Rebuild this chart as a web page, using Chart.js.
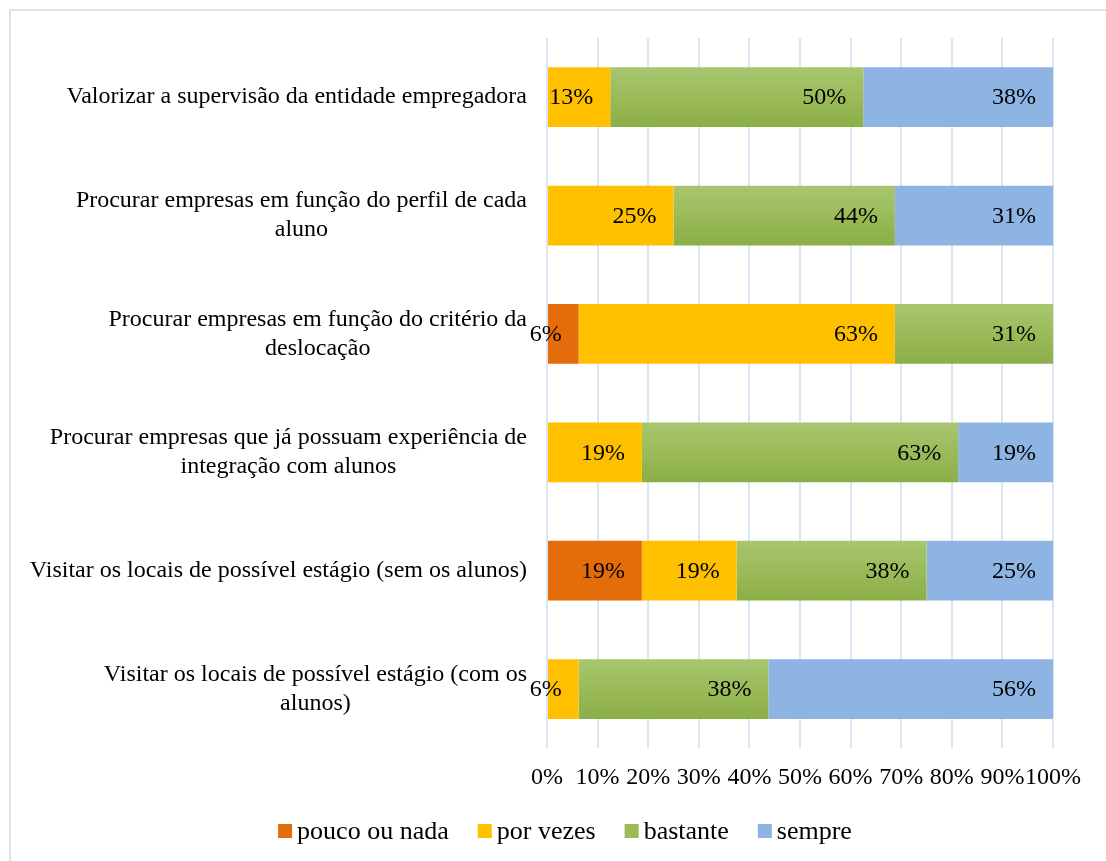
<!DOCTYPE html>
<html>
<head>
<meta charset="utf-8">
<script src="https://cdn.jsdelivr.net/npm/chart.js@4.4.0/dist/chart.umd.min.js"></script>
<style>
  html, body { margin: 0; padding: 0; background: #fff; overflow: hidden; }
  canvas { display: block; }
</style>
</head>
<body>
<canvas id="myChart" width="1106" height="861"></canvas>
<script>
// Data (percent of answers)
const categories = [
    ['Valorizar a supervisão da entidade empregadora'],
    ['Procurar empresas em função do perfil de cada', 'aluno'],
    ['Procurar empresas em função do critério da', 'deslocação'],
    ['Procurar empresas que já possuam experiência de', 'integração com alunos'],
    ['Visitar os locais de possível estágio (sem os alunos)'],
    ['Visitar os locais de possível estágio (com os', 'alunos)']
];
const seriesNames = ['pouco ou nada', 'por vezes', 'bastante', 'sempre'];
const poucoOuNada = [0, 0, 6.25, 0, 18.75, 0];
const porVezes = [12.5, 25, 62.5, 18.75, 18.75, 6.25];
const bastante = [50, 43.75, 31.25, 62.5, 37.5, 37.5];
const sempre = [37.5, 31.25, 0, 18.75, 25, 56.25];
const xTicks = [0, 10, 20, 30, 40, 50, 60, 70, 80, 90, 100];

const FONT = "'Liberation Serif', 'Times New Roman', serif";
const FONT_SIZE = 24;
const swatches = ['#e46c0a', '#ffc000', '#9bbb59', '#8eb4e3'];

// Green bars have a vertical gradient like in the original
function greenFill(context) {
    const chart = context.chart;
    if (!chart.chartArea || !chart.scales.y) return '#9bbb59';
    const yc = chart.scales.y.getPixelForValue(context.dataIndex);
    const g = chart.ctx.createLinearGradient(0, yc - 30, 0, yc + 30);
    g.addColorStop(0, '#a8c66f');
    g.addColorStop(0.5, '#9bbb59');
    g.addColorStop(1, '#8aae48');
    return g;
}

// Frame around the chart
const framePlugin = {
    id: 'frame',
    beforeDraw(chart) {
        const ctx = chart.ctx;
        ctx.save();
        ctx.fillStyle = '#fff';
        ctx.fillRect(0, 0, chart.width, chart.height);
        ctx.strokeStyle = '#d9e4f2';
        ctx.lineWidth = 2;
        ctx.beginPath();
        ctx.moveTo(10, chart.height);
        ctx.lineTo(10, 10);
        ctx.lineTo(chart.width, 10);
        ctx.stroke();
        ctx.restore();
    }
};

// Category labels: block right-aligned, lines centered
const categoryLabels = {
    id: 'categoryLabels',
    afterDraw(chart) {
        const ctx = chart.ctx;
        const y = chart.scales.y;
        const right = chart.chartArea.left - 20;
        const lh = 29;
        ctx.save();
        ctx.font = FONT_SIZE + 'px ' + FONT;
        ctx.fillStyle = '#000';
        ctx.textAlign = 'center';
        ctx.textBaseline = 'middle';
        categories.forEach((lines, i) => {
            const w = Math.max(...lines.map(l => ctx.measureText(l).width));
            const cx = right - w / 2;
            const cy = y.getPixelForValue(i);
            lines.forEach((l, j) => {
                ctx.fillText(l, cx, cy - (lines.length - 1) * lh / 2 + j * lh);
            });
        });
        ctx.restore();
    }
};

// Value labels inside the end of each bar
const valueLabels = {
    id: 'valueLabels',
    afterDatasetsDraw(chart) {
        const ctx = chart.ctx;
        ctx.save();
        ctx.font = FONT_SIZE + 'px ' + FONT;
        ctx.fillStyle = '#000';
        ctx.textAlign = 'right';
        ctx.textBaseline = 'middle';
        chart.data.datasets.forEach((ds, di) => {
            chart.getDatasetMeta(di).data.forEach((bar, i) => {
                const v = ds.data[i];
                if (!v) return;
                ctx.fillText(Math.round(v) + '%', bar.x - 17, bar.y + 1);
            });
        });
        ctx.restore();
    }
};

// Legend drawn by hand so the spacing matches the original
const legendPlugin = {
    id: 'bottomLegend',
    afterDraw(chart) {
        const ctx = chart.ctx;
        ctx.save();
        ctx.font = '26px ' + FONT;
        ctx.textBaseline = 'middle';
        ctx.textAlign = 'left';
        const box = 14, gap = 5, space = 29;
        const widths = seriesNames.map(n => box + gap + ctx.measureText(n).width);
        const total = widths.reduce((a, b) => a + b, 0) + space * (widths.length - 1);
        let x = 565 - total / 2;
        const y = 831;
        seriesNames.forEach((n, i) => {
            ctx.fillStyle = swatches[i];
            ctx.fillRect(x, y - box / 2, box, box);
            ctx.fillStyle = '#000';
            ctx.fillText(n, x + box + gap, y + 1);
            x += widths[i] + space;
        });
        ctx.restore();
    }
};

const ctx = document.getElementById('myChart').getContext('2d');
new Chart(ctx, {
    type: 'bar',
    data: {
        labels: categories,
        datasets: [
            { label: seriesNames[0], data: poucoOuNada, backgroundColor: swatches[0] },
            { label: seriesNames[1], data: porVezes, backgroundColor: swatches[1] },
            { label: seriesNames[2], data: bastante, backgroundColor: greenFill },
            { label: seriesNames[3], data: sempre, backgroundColor: swatches[3] }
        ]
    },
    options: {
        indexAxis: 'y',
        responsive: false,
        animation: false,
        devicePixelRatio: 1,
        layout: { padding: { left: 0, right: 53, top: 38, bottom: 54 } },
        datasets: { bar: { categoryPercentage: 1, barPercentage: 0.505, borderWidth: 0 } },
        scales: {
            x: {
                stacked: true,
                min: 0,
                max: 100,
                afterBuildTicks: axis => { axis.ticks = xTicks.map(v => ({ value: v })); },
                ticks: {
                    callback: v => v + '%',
                    color: '#000',
                    font: { family: FONT, size: FONT_SIZE },
                    padding: 15,
                    maxRotation: 0,
                    autoSkip: false
                },
                grid: { color: '#dae5f4', lineWidth: 2, drawTicks: false },
                border: { display: false }
            },
            y: {
                stacked: true,
                ticks: { display: false },
                grid: { display: false },
                border: { display: false },
                afterFit: axis => { axis.width = 547; }
            }
        },
        plugins: {
            legend: { display: false },
            tooltip: { enabled: false }
        }
    },
    plugins: [framePlugin, categoryLabels, valueLabels, legendPlugin]
});
</script>
</body>
</html>
